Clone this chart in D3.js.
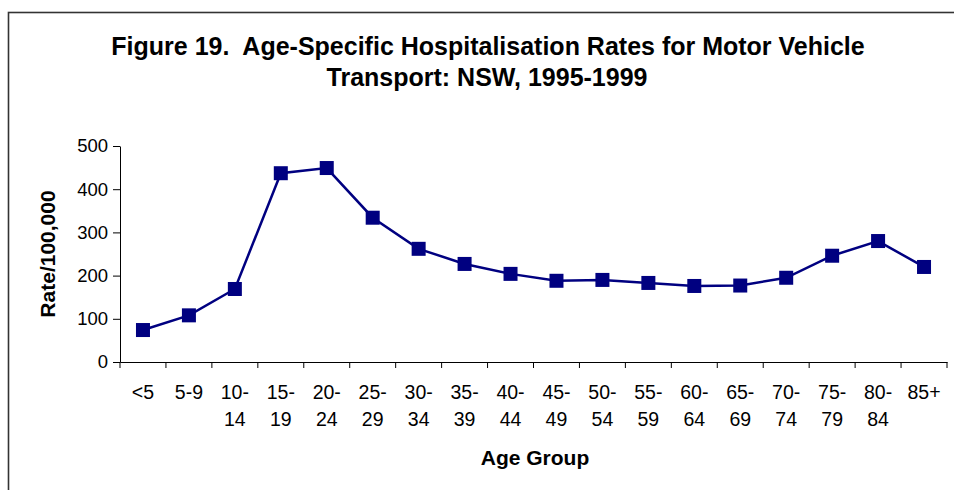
<!DOCTYPE html>
<html>
<head>
<meta charset="utf-8">
<script src="https://cdn.jsdelivr.net/npm/d3@7"></script>
<style>
	body { margin: 0; background: #fff; }
	text { font-family: Arial, "Liberation Sans", sans-serif; fill: #000; }
</style>
</head>
<body>
<div id="chart"></div>
<script>
const ageGroups = [['<5'], ['5-9'], ['10-', '14'], ['15-', '19'], ['20-', '24'], ['25-', '29'], ['30-', '34'],
	['35-', '39'], ['40-', '44'], ['45-', '49'], ['50-', '54'], ['55-', '59'], ['60-', '64'], ['65-', '69'],
	['70-', '74'], ['75-', '79'], ['80-', '84'], ['85+']]
const rates = [74, 108, 169, 437, 449, 334, 262, 227, 204, 188, 190, 183, 176, 177, 195, 246, 280, 220]
const yTicks = [0, 100, 200, 300, 400, 500]
const titleLines = ['Figure 19.  Age-Specific Hospitalisation Rates for Motor Vehicle', 'Transport: NSW, 1995-1999']

const W = 954, H = 490
const margin = { left: 120, right: 7, top: 146, bottom: 128 }

const svg = d3.select('#chart')
	.append('svg')
	.attr('width', W)
	.attr('height', H)

// outer frame (right and bottom sides fall outside the picture)
svg.append('rect')
	.attr('x', 8.5)
	.attr('y', 12.5)
	.attr('width', W + 20)
	.attr('height', H + 20)
	.attr('fill', 'none')
	.attr('stroke', '#333')
	.attr('stroke-width', 1.6)

svg.selectAll('.title')
	.data(titleLines)
	.enter()
	.append('text')
	.attr('class', 'title')
	.attr('xml:space', 'preserve')
	.attr('x', (d, i) => i == 0 ? 488 : 487)
	.attr('y', (d, i) => 55 + i * 31)
	.attr('text-anchor', 'middle')
	.style('white-space', 'pre')
	.style('font-size', '25px')
	.style('font-weight', 'bold')
	.text(d => d)

const keys = ageGroups.map(d => d.join(''))

const x = d3.scaleBand()
	.domain(keys)
	.range([margin.left, W - margin.right])

const y = d3.scaleLinear()
	.domain([0, 500])
	.range([H - margin.bottom, margin.top])

// y axis
const yAxis = svg.append('g')
	.attr('transform', `translate(${margin.left},0)`)
	.call(d3.axisLeft(y).tickValues(yTicks).tickSize(7).tickSizeOuter(0).tickPadding(5))
yAxis.select('.domain').attr('stroke', '#000')
yAxis.selectAll('text').style('font-size', '18.5px').attr('fill', '#000')

// x axis: ticks at the category boundaries
const xAxis = svg.append('g')
	.attr('transform', `translate(0,${y(0)})`)
	.call(d3.axisBottom(x).tickSize(0).tickFormat(''))
xAxis.select('.domain').attr('stroke', '#000')
xAxis.selectAll('.tick').remove()

svg.selectAll('.xtick')
	.data(keys.concat(['end']))
	.enter()
	.append('line')
	.attr('class', 'xtick')
	.attr('x1', (d, i) => i < keys.length ? x(d) : x.range()[1])
	.attr('x2', (d, i) => i < keys.length ? x(d) : x.range()[1])
	.attr('y1', y(0))
	.attr('y2', y(0) + 6)
	.attr('stroke', '#000')

const xLabels = svg.selectAll('.xlabel')
	.data(ageGroups)
	.enter()
	.append('text')
	.attr('class', 'xlabel')
	.attr('text-anchor', 'middle')
	.style('font-size', '19.5px')

xLabels.selectAll('tspan')
	.data((d, i) => d.map(t => ({ t, key: keys[i] })))
	.enter()
	.append('tspan')
	.attr('x', d => x(d.key) + x.bandwidth() / 2)
	.attr('y', (d, j) => 399 + j * 27)
	.text(d => d.t)

// axis titles
svg.append('text')
	.attr('x', 535)
	.attr('y', 465)
	.attr('text-anchor', 'middle')
	.style('font-size', '21px')
	.style('font-weight', 'bold')
	.text('Age Group')

svg.append('text')
	.attr('transform', `translate(55,${(y(0) + y(500)) / 2}) rotate(-90)`)
	.attr('text-anchor', 'middle')
	.style('font-size', '21px')
	.style('font-weight', 'bold')
	.text('Rate/100,000')

// series
const line = d3.line()
	.x((d, i) => x(keys[i]) + x.bandwidth() / 2)
	.y(d => y(d))

svg.append('path')
	.datum(rates)
	.attr('d', line)
	.attr('fill', 'none')
	.attr('stroke', '#000080')
	.attr('stroke-width', 2.5)

const s = 14
svg.selectAll('.marker')
	.data(rates)
	.enter()
	.append('rect')
	.attr('class', 'marker')
	.attr('x', (d, i) => x(keys[i]) + x.bandwidth() / 2 - s / 2)
	.attr('y', d => y(d) - s / 2)
	.attr('width', s)
	.attr('height', s)
	.attr('fill', '#000080')
</script>
</body>
</html>
